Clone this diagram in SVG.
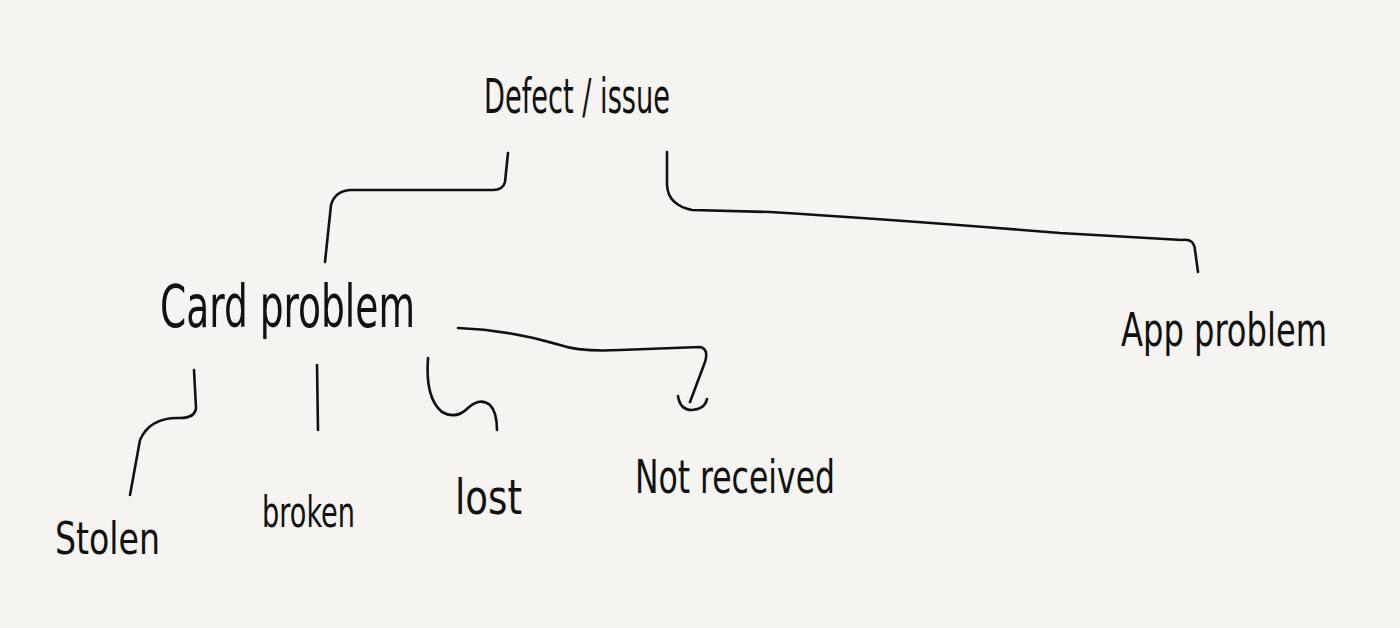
<svg xmlns="http://www.w3.org/2000/svg" width="1400" height="628" viewBox="0 0 1400 628">
<style>
.bg{fill:#f5f4f0}
.lbl{font-family:"Liberation Sans Narrow","DejaVu Sans Condensed","Liberation Sans",sans-serif;fill:#111;font-weight:normal}
.c{fill:none;stroke:#111;stroke-width:2.6;stroke-linecap:round;stroke-linejoin:round}
</style>
<rect class="bg" x="0" y="0" width="1400" height="628"/>
<g id="connectors">
<path class="c" d="M508,153 L505,182 Q503,190 493,190 L350,190 Q335,191 331,205 L325,262"/>
<path class="c" d="M667,152 L667,185 Q668,205 692,210 L770,212 Q900,220 1060,233 L1182,240 Q1194,238 1195,250 L1198,272"/>
<path class="c" d="M458,328 Q510,330 560,345 Q580,352 620,350 L700,347 Q709,349 705,362 L690,402"/>
<path class="c" d="M678,396 Q680,410 692,410 Q705,409 707,399"/>
<path class="c" d="M194,370 L196,408 Q195,418 180,418 Q150,417 140,440 L130,495"/>
<path class="c" d="M317,365 L318,430"/>
<path class="c" d="M428,358 Q425,398 442,412 Q456,420 468,408 Q480,397 490,405 Q497,412 497,430"/>
</g>
<g id="node-defect"><text class="lbl" x="484" y="113" font-size="48" textLength="186" lengthAdjust="spacingAndGlyphs">Defect / issue</text></g>
<g id="node-card"><text class="lbl" x="160" y="327" font-size="58" textLength="255" lengthAdjust="spacingAndGlyphs">Card problem</text></g>
<g id="node-app"><text class="lbl" x="1121" y="346" font-size="46" textLength="206" lengthAdjust="spacingAndGlyphs">App problem</text></g>
<g id="node-stolen"><text class="lbl" x="55" y="554" font-size="44" textLength="105" lengthAdjust="spacingAndGlyphs">Stolen</text></g>
<g id="node-broken"><text class="lbl" x="262" y="527" font-size="42" textLength="93" lengthAdjust="spacingAndGlyphs">broken</text></g>
<g id="node-lost"><text class="lbl" x="455" y="514" font-size="48" textLength="67" lengthAdjust="spacingAndGlyphs">lost</text></g>
<g id="node-notreceived"><text class="lbl" x="635" y="493" font-size="46" textLength="200" lengthAdjust="spacingAndGlyphs">Not received</text></g>
</svg>
